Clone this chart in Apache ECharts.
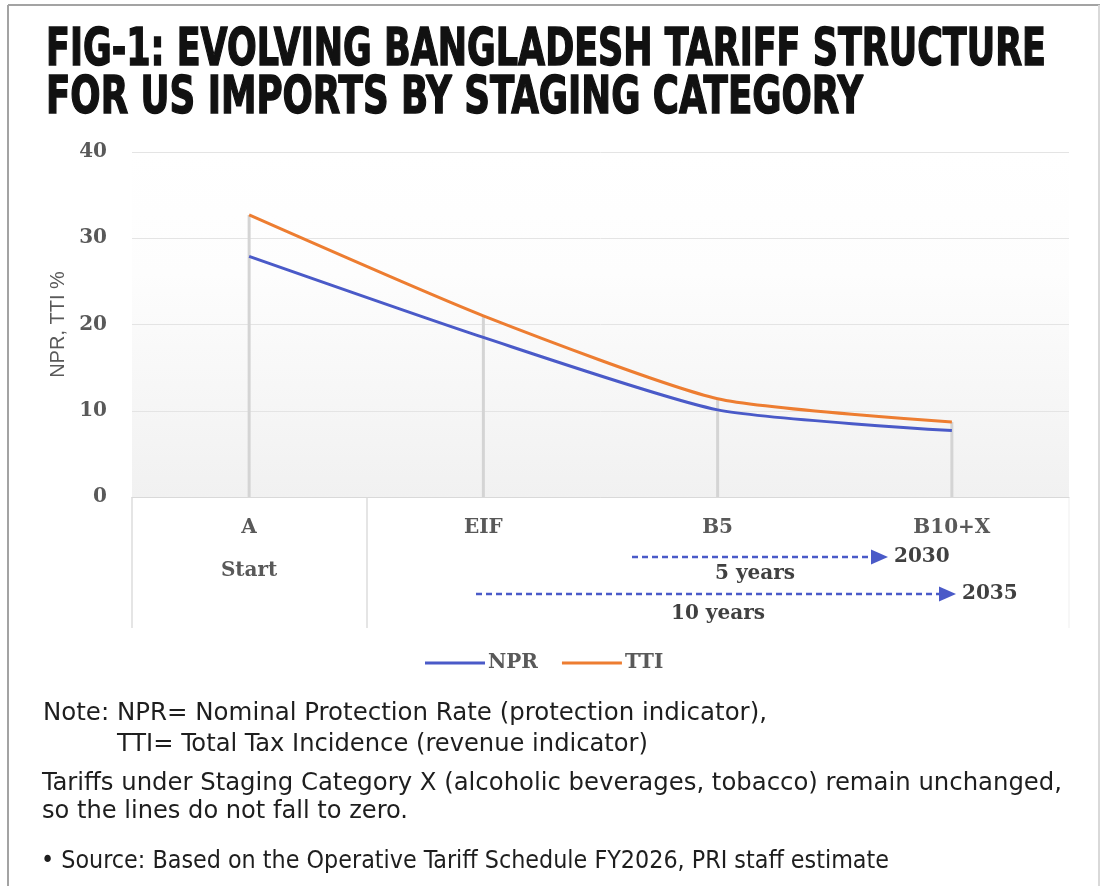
<!DOCTYPE html>
<html>
<head>
<meta charset="utf-8">
<script src="https://cdn.jsdelivr.net/npm/echarts@6/dist/echarts.min.js"></script>
<style>
html,body{margin:0;padding:0;background:#ffffff;}
#c{width:1104px;height:886px;}
</style>
</head>
<body>
<div id="c"></div>
<script>
// ---- data ----
const categories = ['A', 'EIF', 'B5', 'B10+X'];
const groupLabels = ['Start', '', '', ''];
const nprValues = [27.9, 18.5, 10.1, 7.7];
const ttiValues = [32.7, 21.0, 11.4, 8.7];
const yMin = 0, yMax = 40, yStep = 10;
const seriesNames = ['NPR', 'TTI'];
const titleLines = [
  'FIG-1: EVOLVING BANGLADESH TARIFF STRUCTURE',
  'FOR US IMPORTS BY STAGING CATEGORY'
];
const noteLines = [
  'Note: NPR= Nominal Protection Rate (protection indicator),',
  'TTI= Total Tax Incidence (revenue indicator)',
  'Tariffs under Staging Category X (alcoholic beverages, tobacco) remain unchanged,',
  'so the lines do not fall to zero.',
  '\u2022 Source: Based on the Operative Tariff Schedule FY2026, PRI staff estimate'
];
const timelineYears = ['2030', '2035'];
const timelineSpans = ['5 years', '10 years'];

// ---- helpers ----
const mctx = document.createElement('canvas').getContext('2d');
function fit(text, font, target) {
  mctx.font = font;
  const w = mctx.measureText(text).width;
  return w > 0 ? target / w : 1;
}
const titleFont = 'bold 51px "DejaVu Sans Condensed", "DejaVu Sans", sans-serif';
const noteFont = '25px "Liberation Sans Narrow", "DejaVu Sans Condensed", "Liberation Sans", sans-serif';
const serifBold = '"DejaVu Serif", "Liberation Serif", serif';
const blue = '#4a5ac8';
const orange = '#ed7d31';

function fittedText(text, font, x, y, width, fill, strokeW) {
  const st = { text: text, font: font, fill: fill, textAlign: 'left', textVerticalAlign: 'middle' };
  if (strokeW) { st.stroke = fill; st.lineWidth = strokeW; }
  return { type: 'text', x: x, y: y, scaleX: fit(text, font, width), silent: true, style: st };
}
function plainText(text, x, y, align, size, fill) {
  return {
    type: 'text', x: x, y: y, silent: true,
    style: { text: text, fontFamily: serifBold, fontWeight: 'bold', fontSize: size, fill: fill,
             textAlign: align, textVerticalAlign: 'middle' }
  };
}

const graphics = [
  // frame
  { type: 'line', silent: true, shape: { x1: 8, y1: 5, x2: 1100, y2: 5 }, style: { stroke: '#a3a3a3', lineWidth: 2 } },
  { type: 'line', silent: true, shape: { x1: 8, y1: 5, x2: 8, y2: 886 }, style: { stroke: '#a3a3a3', lineWidth: 2 } },
  { type: 'line', silent: true, shape: { x1: 1099, y1: 5, x2: 1099, y2: 886 }, style: { stroke: '#d9d9d9', lineWidth: 2 } },
  // title
  fittedText(titleLines[0], titleFont, 46, 52, 1000, '#111111', 1.4),
  fittedText(titleLines[1], titleFont, 46, 100, 817, '#111111', 1.4),
  // category box lines
  { type: 'line', silent: true, shape: { x1: 132, y1: 497, x2: 132, y2: 628 }, style: { stroke: '#dcdcdc', lineWidth: 1.5 } },
  { type: 'line', silent: true, shape: { x1: 367, y1: 497, x2: 367, y2: 628 }, style: { stroke: '#dcdcdc', lineWidth: 1.5 } },
  { type: 'line', silent: true, shape: { x1: 1069, y1: 497, x2: 1069, y2: 628 }, style: { stroke: '#efefef', lineWidth: 1 } },
  // timeline arrows
  { type: 'polyline', silent: true, shape: { points: [[632, 557], [872, 557]] }, style: { stroke: blue, lineWidth: 2.5, lineDash: [6, 4], fill: null } },
  { type: 'polygon', silent: true, shape: { points: [[871, 549.5], [888, 557], [871, 564.5]] }, style: { fill: blue } },
  plainText(timelineYears[0], 894, 557, 'left', 20, '#404040'),
  plainText(timelineSpans[0], 755, 574, 'center', 20, '#404040'),
  { type: 'polyline', silent: true, shape: { points: [[476, 594], [940, 594]] }, style: { stroke: blue, lineWidth: 2.5, lineDash: [6, 4], fill: null } },
  { type: 'polygon', silent: true, shape: { points: [[939, 586.5], [956, 594], [939, 601.5]] }, style: { fill: blue } },
  plainText(timelineYears[1], 962, 594, 'left', 20, '#404040'),
  plainText(timelineSpans[1], 718, 614, 'center', 20, '#404040'),
  // notes
  fittedText(noteLines[0], noteFont, 43, 713, 724, '#1e1e1e'),
  fittedText(noteLines[1], noteFont, 117, 744, 531, '#1e1e1e'),
  fittedText(noteLines[2], noteFont, 42, 783, 1020, '#1e1e1e'),
  fittedText(noteLines[3], noteFont, 42, 811, 366, '#1e1e1e'),
  fittedText(noteLines[4], noteFont, 41, 861, 848, '#1e1e1e')
];

const chart = echarts.init(document.getElementById('c'), null, { renderer: 'canvas' });
chart.setOption({
  animation: false,
  backgroundColor: '#ffffff',
  grid: {
    left: 132, right: 35, top: 152, bottom: 389, show: true, borderWidth: 0,
    backgroundColor: new echarts.graphic.LinearGradient(0, 0, 0, 1, [
      { offset: 0, color: '#ffffff' },
      { offset: 0.35, color: '#fdfdfd' },
      { offset: 1, color: '#f1f1f1' }
    ])
  },
  legend: {
    data: seriesNames, left: 425, top: 653, padding: 0,
    icon: 'rect', itemWidth: 60, itemHeight: 3, itemGap: 24,
    textStyle: { fontFamily: serifBold, fontWeight: 'bold', fontSize: 20, color: '#595959', padding: [0, 0, 0, -2] }
  },
  xAxis: {
    type: 'category', data: categories, boundaryGap: true,
    axisLine: { lineStyle: { color: '#d9d9d9', width: 1 } },
    axisTick: { show: false },
    splitLine: { show: false },
    axisLabel: {
      interval: 0, margin: 9,
      formatter: function (v, i) { return '{a|' + v + '}\n{b|' + (groupLabels[i] || ' ') + '}'; },
      rich: {
        a: { fontFamily: serifBold, fontWeight: 'bold', fontSize: 20, color: '#595959', lineHeight: 43 },
        b: { fontFamily: serifBold, fontWeight: 'bold', fontSize: 20, color: '#595959', lineHeight: 43 }
      }
    }
  },
  yAxis: {
    type: 'value', min: yMin, max: yMax, interval: yStep,
    axisLine: { show: false }, axisTick: { show: false },
    splitLine: { lineStyle: { color: '#e4e4e4', width: 1 } },
    axisLabel: { color: '#595959', fontFamily: serifBold, fontWeight: 'bold', fontSize: 20, margin: 25 },
    name: 'NPR, TTI %', nameLocation: 'middle', nameGap: 64, nameRotate: 90,
    nameTextStyle: { fontFamily: '"Liberation Sans", Arial, sans-serif', fontSize: 20, color: '#595959' }
  },
  series: [
    {
      name: 'drop', type: 'bar', data: ttiValues, barWidth: 3, silent: true, z: 1,
      itemStyle: { color: '#d4d4d4' }
    },
    {
      name: seriesNames[0], type: 'line', data: nprValues, smooth: 0.2, symbol: 'none', z: 3,
      itemStyle: { color: blue }, lineStyle: { color: blue, width: 3 }
    },
    {
      name: seriesNames[1], type: 'line', data: ttiValues, smooth: 0.2, symbol: 'none', z: 3,
      itemStyle: { color: orange }, lineStyle: { color: orange, width: 3 }
    }
  ],
  graphic: graphics
});
</script>
</body>
</html>
